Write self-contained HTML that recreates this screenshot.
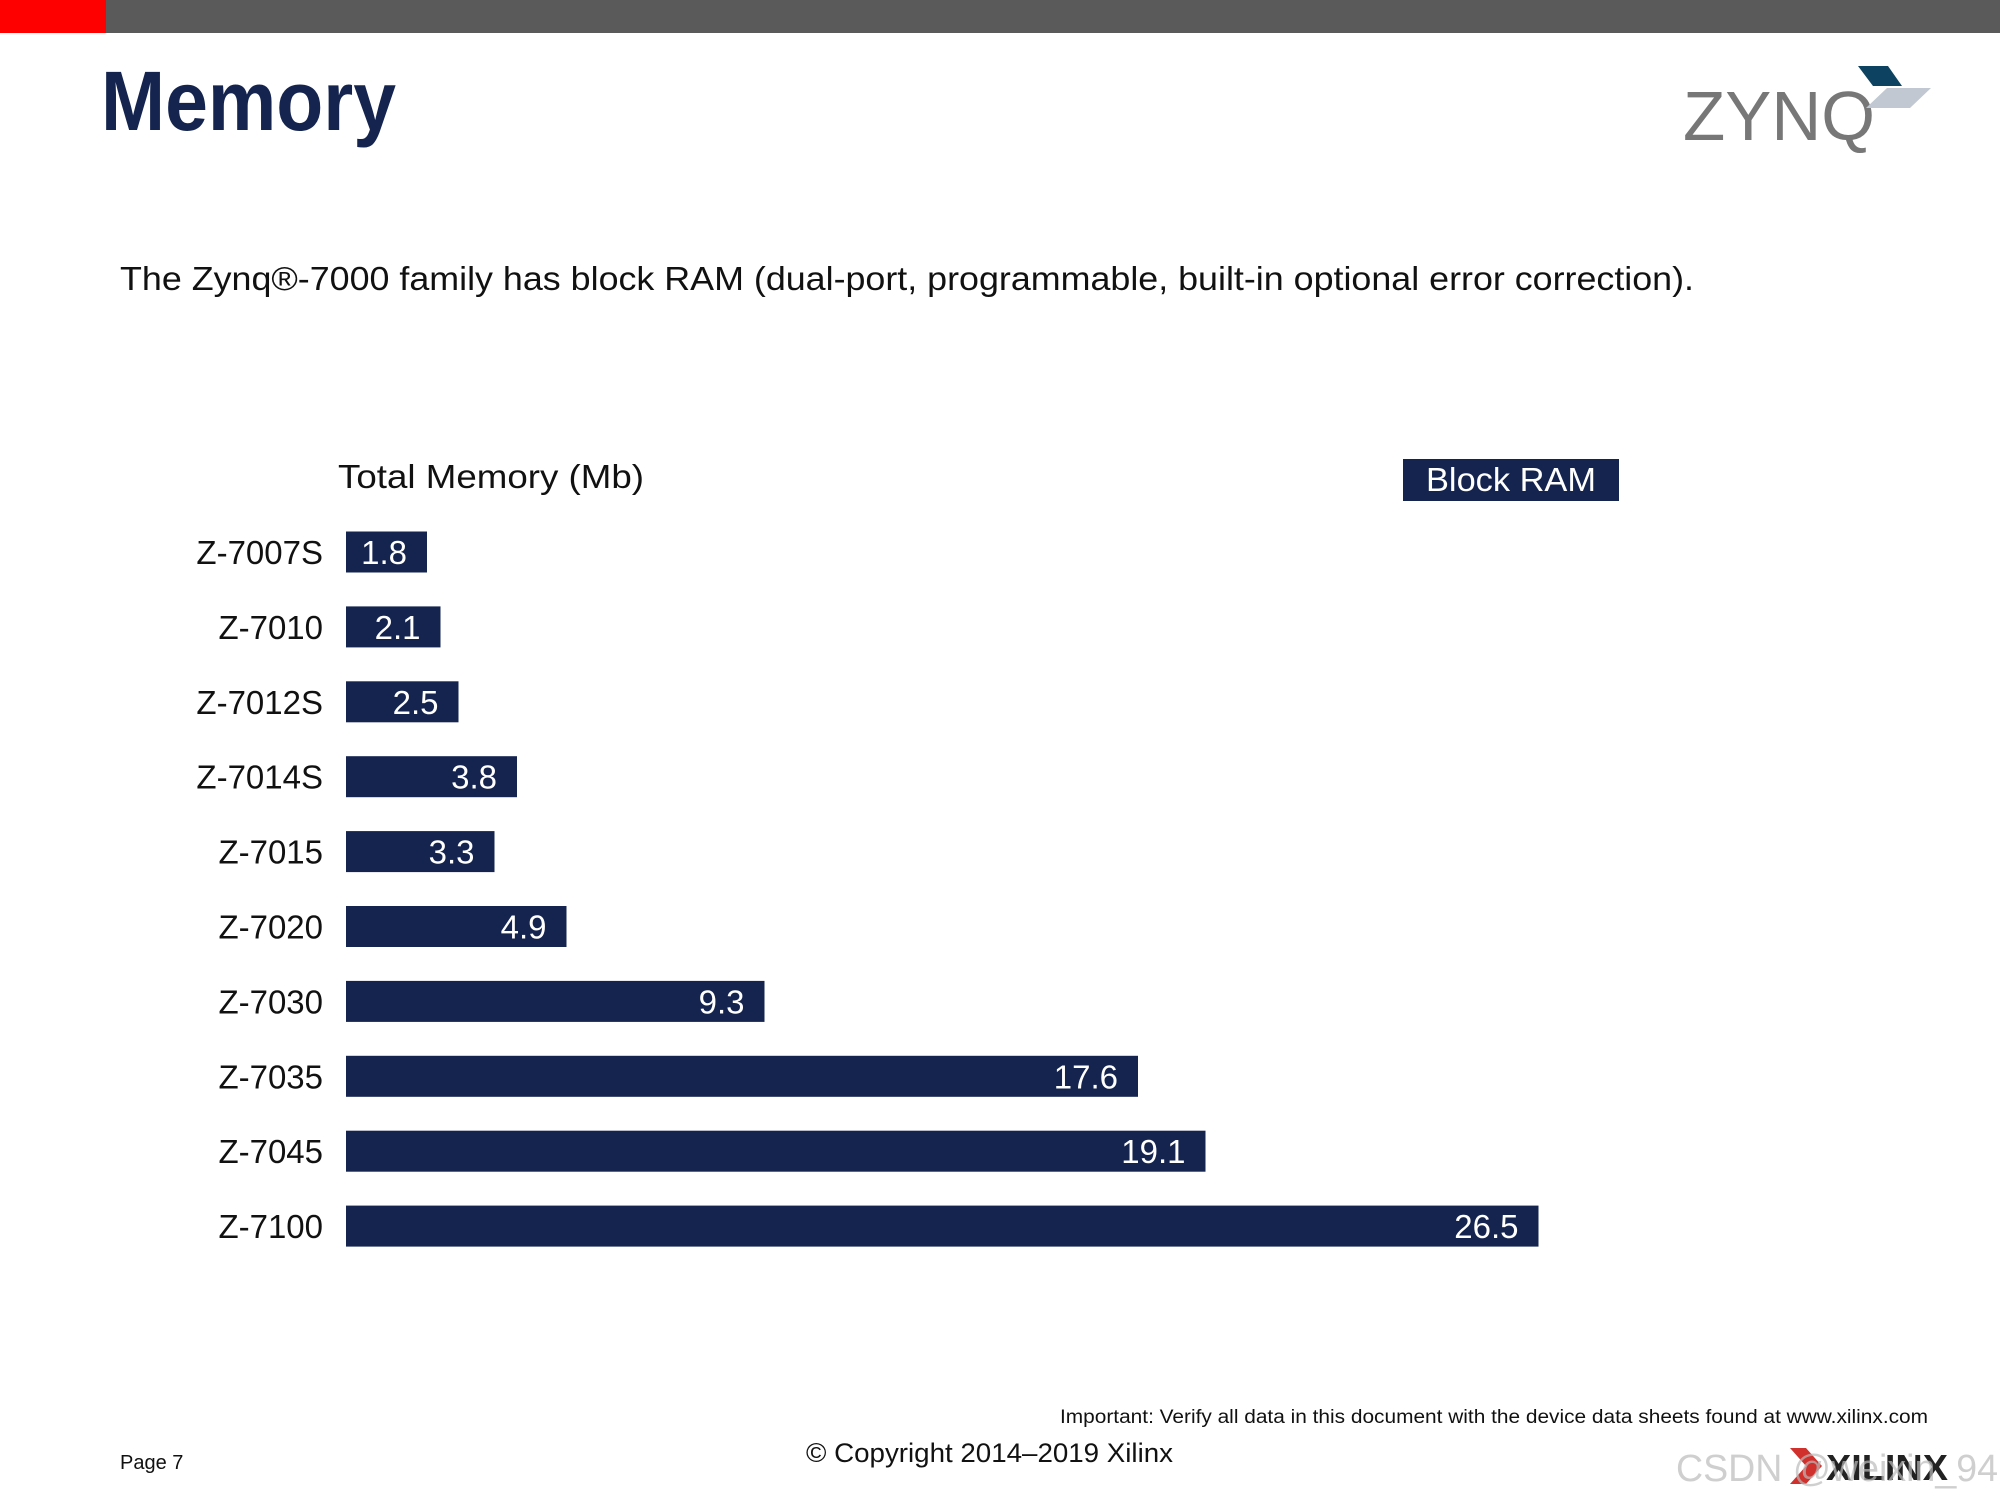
<!DOCTYPE html>
<html><head><meta charset="utf-8"><style>
html,body{margin:0;padding:0;background:#fff}
svg{display:block;font-family:"Liberation Sans",sans-serif}
</style></head><body>
<svg id="page" width="2000" height="1500" viewBox="0 0 2000 1500">
<rect x="0" y="0" width="2000" height="33" fill="#5a5a5a"/>
<rect x="0" y="0" width="106" height="33" fill="#ff0000"/>
<text x="101" y="130" font-size="84" font-weight="bold" fill="#14244f" textLength="295" lengthAdjust="spacingAndGlyphs">Memory</text>
<g>
<text x="1683" y="140" font-size="70" fill="#777" textLength="192" lengthAdjust="spacingAndGlyphs">ZYNQ</text>
<polygon points="1858,66 1888,66 1902,86 1873,86" fill="#0d4360"/>
<polygon points="1887,88 1931,88 1910,108 1866,108" fill="#c1c8d2"/>
</g>
<text x="120" y="290" font-size="33" fill="#111" textLength="1574" lengthAdjust="spacingAndGlyphs">The Zynq®-7000 family has block RAM (dual-port, programmable, built-in optional error correction).</text>
<text x="338" y="488" font-size="33" fill="#111" textLength="306" lengthAdjust="spacingAndGlyphs">Total Memory (Mb)</text>
<rect x="1403" y="459" width="216" height="42" fill="#14244f"/>
<text x="1511" y="491" font-size="33" fill="#fff" text-anchor="middle" textLength="170" lengthAdjust="spacingAndGlyphs">Block RAM</text>
<g id="chart"></g>
<text x="1060" y="1423" font-size="19" fill="#111" textLength="868" lengthAdjust="spacingAndGlyphs">Important: Verify all data in this document with the device data sheets found at www.xilinx.com</text>
<text x="120" y="1469" font-size="20" fill="#111">Page 7</text>
<text x="806" y="1462" font-size="27" fill="#111" textLength="367" lengthAdjust="spacingAndGlyphs">© Copyright 2014–2019 Xilinx</text>
<g>
<polygon points="1790,1448 1806,1448 1822,1466 1806,1484 1790,1484 1806,1466" fill="#d0312d"/>
<text x="1826" y="1480" font-size="36" font-weight="bold" fill="#222" textLength="122" lengthAdjust="spacingAndGlyphs">XILINX</text>
</g>
<text x="1676" y="1481" font-size="38" fill="#bbb" fill-opacity="0.7" textLength="322" lengthAdjust="spacingAndGlyphs">CSDN @weixin_94</text>
</svg>
<script>
const categories = ["Z-7007S","Z-7010","Z-7012S","Z-7014S","Z-7015","Z-7020","Z-7030","Z-7035","Z-7045","Z-7100"];
const blockRam = [1.8,2.1,2.5,3.8,3.3,4.9,9.3,17.6,19.1,26.5];
const valueLabels = ["1.8","2.1","2.5","3.8","3.3","4.9","9.3","17.6","19.1","26.5"];
const NS = "http://www.w3.org/2000/svg";
const x0 = 346, pxPerUnit = 45.0, y0 = 552, step = 74.9, barH = 41;
const xScale = v => x0 + v * pxPerUnit;
const yScale = i => y0 + i * step;
const g = document.getElementById('chart');
categories.forEach((c, i) => {
  const cy = yScale(i);
  const lab = document.createElementNS(NS, 'text');
  
  
  lab.setAttribute('x', 323); lab.setAttribute('y', cy + 12);
  lab.setAttribute('text-anchor', 'end'); lab.setAttribute('font-size', '33'); lab.setAttribute('fill', '#111');
  lab.textContent = c; g.appendChild(lab);
  const r = document.createElementNS(NS, 'rect');
  
  
  r.setAttribute('x', x0); r.setAttribute('y', cy - barH / 2);
  r.setAttribute('width', xScale(blockRam[i]) - x0); r.setAttribute('height', barH);
  r.setAttribute('fill', '#14244f'); g.appendChild(r);
  const v = document.createElementNS(NS, 'text');
  
  
  v.setAttribute('x', xScale(blockRam[i]) - 20); v.setAttribute('y', cy + 12);
  v.setAttribute('text-anchor', 'end'); v.setAttribute('font-size', '33'); v.setAttribute('fill', '#fff');
  v.textContent = valueLabels[i]; g.appendChild(v);
});
</script>
</body></html>
